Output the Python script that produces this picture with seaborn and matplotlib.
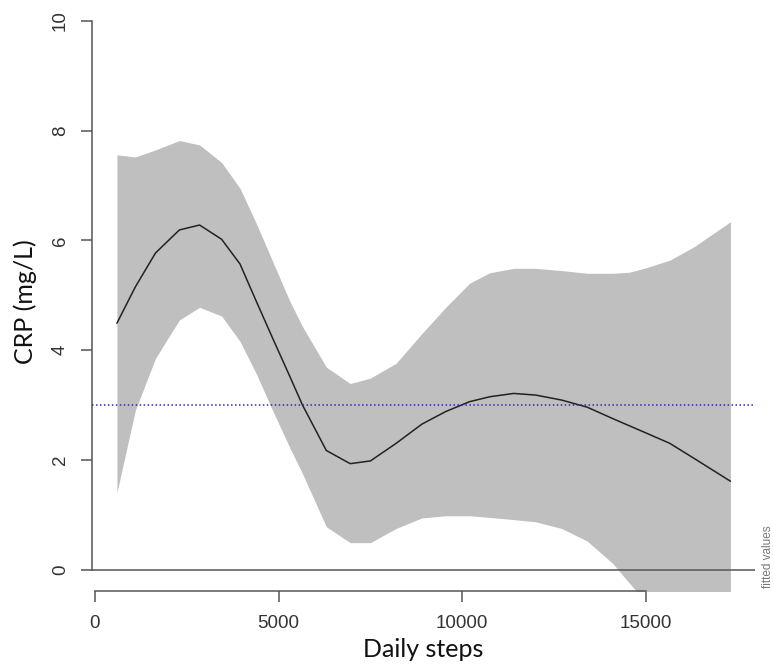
import numpy as np
import pandas as pd
import matplotlib
matplotlib.use("Agg")
import matplotlib.pyplot as plt
import seaborn as sns

# ---- data ----
steps = [600, 1100, 1650, 2300, 2850, 3450, 3950, 4400, 4850, 5300, 5650,
         6300, 6950, 7500, 8200, 8900, 9550, 10200, 10750, 11400, 12000,
         12700, 13400, 14100, 14550, 15000, 15650, 16300, 17300]
fitted = [4.49, 5.15, 5.77, 6.19, 6.28, 6.02, 5.57, 4.88, 4.20, 3.53, 3.00,
          2.17, 1.93, 1.98, 2.30, 2.65, 2.88, 3.06, 3.15, 3.21, 3.18,
          3.09, 2.96, 2.75, 2.62, 2.49, 2.30, 2.03, 1.61]
upper = [7.56, 7.52, 7.65, 7.82, 7.74, 7.42, 6.95, 6.30, 5.60, 4.90, 4.43,
         3.69, 3.39, 3.49, 3.76, 4.30, 4.78, 5.22, 5.41, 5.49, 5.49,
         5.45, 5.40, 5.40, 5.42, 5.50, 5.64, 5.88, 6.34]
lower = [1.40, 2.90, 3.85, 4.55, 4.78, 4.62, 4.16, 3.56, 2.88, 2.23, 1.75,
         0.78, 0.49, 0.49, 0.75, 0.94, 0.98, 0.98, 0.95, 0.91, 0.87,
         0.75, 0.52, 0.11, -0.25, -0.58, -1.10, -1.60, -2.40]
x_ticks = [0, 5000, 10000, 15000]
y_ticks = [0, 2, 4, 6, 8, 10]
ref_line = 3
x_label = "Daily steps"
y_label = "CRP (mg/L)"
side_text = "fitted values"

df = pd.DataFrame({"steps": steps, "fitted": fitted, "upper": upper, "lower": lower})

sns.set_theme(style="white")
plt.rcParams["font.family"] = ["Liberation Sans", "DejaVu Sans"]

fig = plt.figure(figsize=(7.73, 6.71), dpi=100)
ax = fig.add_axes([0.1195, 0.1185, 0.9767 - 0.1195, 0.883])

axis_col = "#555555"
ax.fill_between(df["steps"], df["lower"], df["upper"], color="#bfbfbf", lw=0, zorder=1)
sns.lineplot(data=df, x="steps", y="fitted", ax=ax, color="#222222", lw=1.1,
             zorder=3, legend=False)
ax.axhline(0, color=axis_col, lw=1.1, zorder=4)
ax.axhline(ref_line, color="#2b2bb0", lw=1.1, ls=(0, (1, 1.6)), zorder=4)

rng = max(steps) - min(steps)
ax.set_xlim(min(steps) - 0.04 * rng, max(steps) + 0.04 * rng)
ax.set_ylim(-0.4, 10.4)

for s in ["top", "right"]:
    ax.spines[s].set_visible(False)
for s in ["left", "bottom"]:
    ax.spines[s].set_color(axis_col)
    ax.spines[s].set_linewidth(1.1)
ax.spines["left"].set_bounds(0, 10)
ax.spines["bottom"].set_bounds(0, 15000)

ax.set_xticks(x_ticks)
ax.set_xticklabels([str(t) for t in x_ticks])
ax.set_yticks(y_ticks)
ax.set_yticklabels([str(t) for t in y_ticks], rotation=90, va="center")
ax.tick_params(axis="both", which="both", direction="out", length=8, width=1.1,
               color=axis_col, labelcolor="#333333", labelsize=13.5, pad=9,
               left=True, bottom=True)

ax.set_xlabel(x_label, family=["Lato", "DejaVu Sans"], fontsize=18, color="#111111", labelpad=4)
ax.set_ylabel(y_label, family=["Lato", "DejaVu Sans"], fontsize=18, color="#111111")
ax.yaxis.set_label_coords(-0.084, 0.49)

fig.text(0.9935, (671 - 557) / 671, side_text, rotation=90, ha="center", va="center",
         fontsize=8.5, color="#777777")

fig.savefig("out.png", dpi=100)
